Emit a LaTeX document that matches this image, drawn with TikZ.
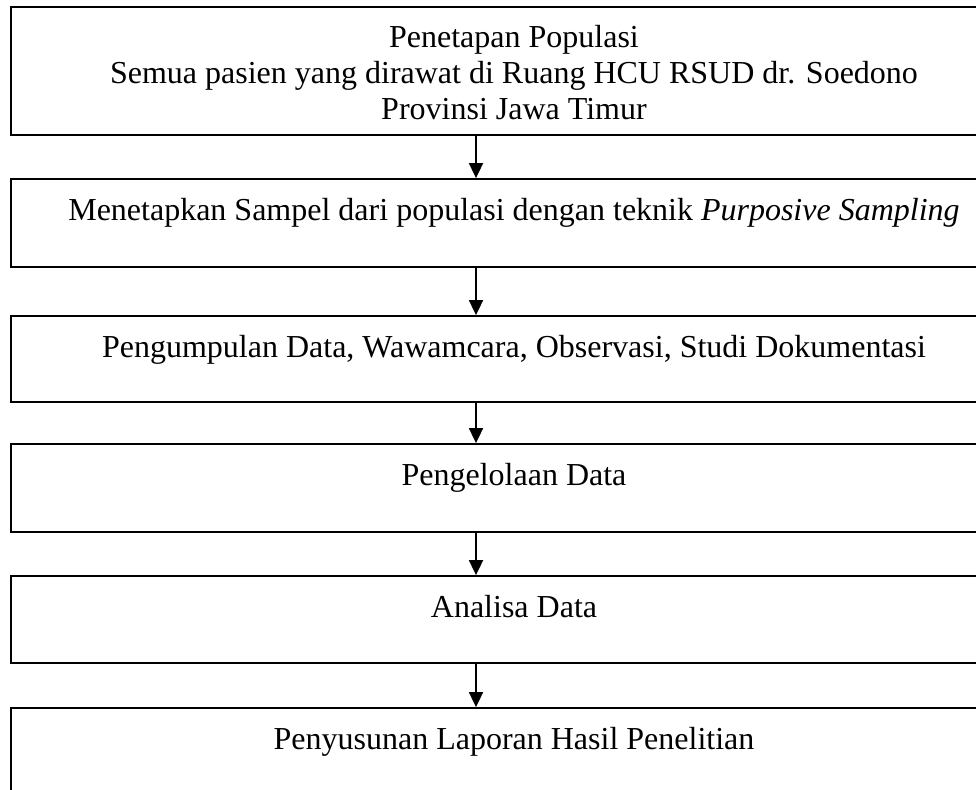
\documentclass[tikz,border=0pt]{standalone}
\usepackage{fontspec}
\setmainfont{Liberation Serif}
\usetikzlibrary{arrows.meta}
\tikzset{%
    stage/.style={
      rectangle,
      draw,
      line width=1.8pt,
      minimum width=1006pt,
      inner sep=0pt
    },
    stage text/.style={
      anchor=north,
      align=center,
      inner sep=0pt,
      font=\fontsize{32}{36}\selectfont
    },
    flow/.style={
      ->,
      line width=1.8pt
    }
  }

\begin{document}
\begin{tikzpicture}[x=1pt, y=-1pt, >={Triangle[length=15pt,width=14pt]}]
      \clip (0,0) rectangle (976,789);

      \node [stage, minimum height=128pt] (pop) at (514,71) {};
      \node [stage, minimum height=88pt] (smp) at (514,223) {};
      \node [stage, minimum height=86pt] (kum) at (514,359) {};
      \node [stage, minimum height=88pt] (olah) at (514,488) {};
      \node [stage, minimum height=87pt] (anl) at (514,619.5) {};
      \node [stage, minimum height=88pt] (lap) at (514,752) {};

      \node [stage text] (popt) at ([yshift=-19pt]pop.north)
        {Penetapan Populasi\\Semua pasien yang dirawat di Ruang HCU RSUD dr. Soedono\\Provinsi Jawa Timur};
      \node [stage text] (smpt) at ([yshift=-20pt]smp.north)
        {Menetapkan Sampel dari populasi dengan teknik \textit{Purposive Sampling}};
      \node [stage text] (kumt) at ([yshift=-20pt]kum.north)
        {Pengumpulan Data, Wawamcara, Observasi, Studi Dokumentasi};
      \node [stage text] (olaht) at ([yshift=-20pt]olah.north) {Pengelolaan Data};
      \node [stage text] (anlt) at ([yshift=-20pt]anl.north) {Analisa Data};
      \node [stage text] (lapt) at ([yshift=-20pt]lap.north) {Penyusunan Laporan Hasil Penelitian};

      \draw [flow] ([xshift=-38pt]pop.south) -- ([xshift=-38pt]smp.north);
      \draw [flow] ([xshift=-38pt]smp.south) -- ([xshift=-38pt]kum.north);
      \draw [flow] ([xshift=-38pt]kum.south) -- ([xshift=-38pt]olah.north);
      \draw [flow] ([xshift=-38pt]olah.south) -- ([xshift=-38pt]anl.north);
      \draw [flow] ([xshift=-38pt]anl.south) -- ([xshift=-38pt]lap.north);

    \end{tikzpicture}
\end{document}
